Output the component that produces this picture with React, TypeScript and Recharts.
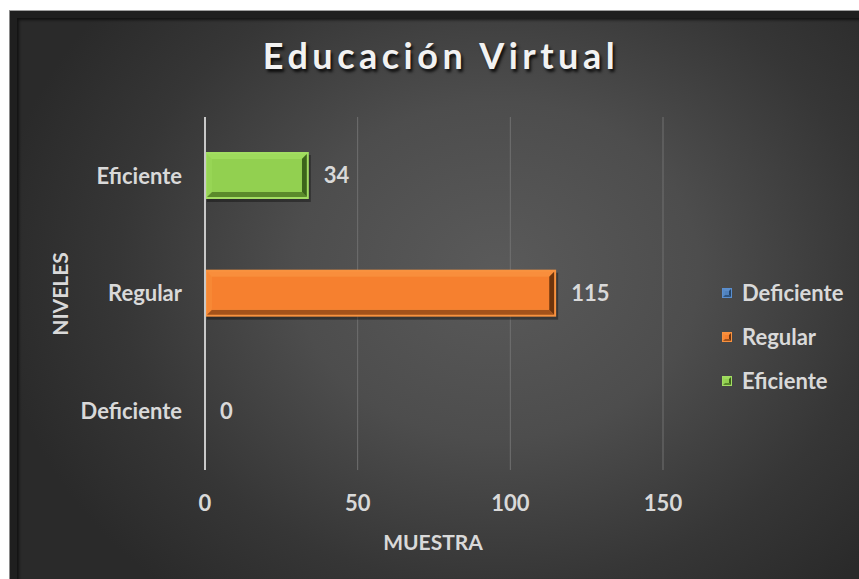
import React from "react";
import { BarChart, Bar, XAxis, YAxis, CartesianGrid, LabelList } from "recharts";

const categories = ["Eficiente", "Regular", "Deficiente"];
const seriesNames = ["Deficiente", "Regular", "Eficiente"];
const deficienteValues: (number | null)[] = [null, null, 0];
const regularValues: (number | null)[] = [null, 115, null];
const eficienteValues: (number | null)[] = [34, null, null];
const xTicks = [0, 50, 100, 150];

const data = categories.map((cat, i) => ({
  cat,
  Deficiente: deficienteValues[i],
  Regular: regularValues[i],
  Eficiente: eficienteValues[i],
}));

type Palette = { edge: string; face: string; top: string; left: string; bottom: string; right: string };
const palettes: Record<string, Palette> = {
  Deficiente: { edge: "#5a8fd0", face: "#4f81bd", top: "#5b8cc8", left: "#5588c4", bottom: "#2f5683", right: "#244468" },
  Regular: { edge: "#f8923f", face: "#f6802f", top: "#f98e3c", left: "#f78835", bottom: "#a3521a", right: "#6e340c" },
  Eficiente: { edge: "#a2dd62", face: "#92d050", top: "#9edb5c", left: "#97d555", bottom: "#5b8a2b", right: "#3c641b" },
};

const FONT = "Lato, 'Open Sans', sans-serif";
const TEXT = "#d9d9d9";
const FS = 22;

function bevel(x: number, y: number, w: number, h: number, p: Palette, b: number, e: number) {
  const pts = (arr: number[][]) => arr.map((q) => q.join(",")).join(" ");
  return (
    <g>
      <rect x={x} y={y} width={w} height={h} fill={p.edge} />
      <polygon points={pts([[x + e, y + e], [x + w - e, y + e], [x + w - e - b, y + e + b], [x + e + b, y + e + b]])} fill={p.top} />
      <polygon points={pts([[x + e, y + e], [x + e + b, y + e + b], [x + e + b, y + h - e - b], [x + e, y + h - e]])} fill={p.left} />
      <polygon points={pts([[x + e, y + h - e], [x + w - e, y + h - e], [x + w - e - b, y + h - e - b], [x + e + b, y + h - e - b]])} fill={p.bottom} />
      <polygon points={pts([[x + w - e, y + e], [x + w - e, y + h - e], [x + w - e - b, y + h - e - b], [x + w - e - b, y + e + b]])} fill={p.right} />
      <rect x={x + e + b} y={y + e + b} width={Math.max(0, w - 2 * (e + b))} height={Math.max(0, h - 2 * (e + b))} fill={p.face} />
    </g>
  );
}

const makeShape = (name: string) => (props: any) => {
  const { x, y, width, height } = props;
  if (!width || width <= 0 || !height) return <g />;
  const p = palettes[name];
  return (
    <g>
      <rect x={x + 2} y={y + 3} width={width} height={height} fill="#000" opacity={0.35} />
      {bevel(x, y, width, height, p, 5, 2)}
    </g>
  );
};

const ValueLabel = (props: any) => {
  const { x, y, width, height, value } = props;
  if (value === null || value === undefined || x === undefined || y === undefined) return null;
  return (
    <text x={Number(x) + Number(width || 0) + 15} y={Number(y) + Number(height || 0) / 2} dy="0.36em" textAnchor="start" fill={TEXT} fontFamily={FONT} fontWeight={700} fontSize={FS}>
      {value}
    </text>
  );
};

const XTick = (props: any) => {
  const { x, y, payload } = props;
  return (
    <text x={x} y={y + 33} dy="0.36em" textAnchor="middle" fill={TEXT} fontFamily={FONT} fontWeight={700} fontSize={FS}>
      {payload.value}
    </text>
  );
};

const YTick = (props: any) => {
  const { x, y, payload } = props;
  return (
    <text x={x - 23} y={y} dy="0.36em" textAnchor="end" fill={TEXT} fontFamily={FONT} fontWeight={700} fontSize={FS}>
      {payload.value}
    </text>
  );
};

export default function App() {
  return (
    <div style={{ position: "fixed", left: 0, top: 0, width: 859, height: 579, background: "#ffffff", overflow: "hidden" }}>
      <div
        style={{
          position: "absolute",
          left: 9,
          top: 10,
          width: 850,
          height: 569,
          background: "#1f1f1f",
          borderTop: "1px solid #a0a0a0",
          borderLeft: "1px solid #8a8a8a",
          boxSizing: "border-box",
        }}
      >
        <div
          style={{
            position: "absolute",
            left: 7,
            top: 7,
            right: 0,
            bottom: 0,
            background: "radial-gradient(ellipse 60% 75% at 57% 45%, #5a5a5a 0%, #4d4d4d 40%, #363636 75%, #2a2a2a 100%)",
            boxShadow: "inset 2px 2px 3px rgba(0,0,0,0.6)",
          }}
        />
      </div>
      <div
        style={{
          position: "absolute",
          left: 0,
          width: 882,
          top: 30,
          textAlign: "center",
          fontFamily: FONT,
          fontWeight: 700,
          fontSize: 36,
          letterSpacing: 4.5,
          color: "#f2f2f2",
          textShadow: "2px 3px 3px rgba(0,0,0,0.8)",
          lineHeight: "50px",
        }}
      >
        Educación Virtual
      </div>
      <div style={{ position: "absolute", left: 0, top: 0 }}>
        <BarChart
          width={859}
          height={579}
          data={data}
          layout="vertical"
          margin={{ top: 117, right: 196, bottom: 69, left: 0 }}
          barGap={-47}
        >
          <CartesianGrid horizontal={false} vertical={true} stroke="#707070" strokeWidth={1} />
          <XAxis type="number" domain={[0, 150]} ticks={xTicks} height={40} axisLine={false} tickLine={false} tickSize={0} tickMargin={0} tick={<XTick />} interval={0} />
          <YAxis type="category" dataKey="cat" width={205} axisLine={{ stroke: "#c8c8c8", strokeWidth: 2 }} tickLine={false} tickSize={0} tickMargin={0} tick={<YTick />} interval={0} />
          {seriesNames.map((name) => (
            <Bar key={name} dataKey={name} name={name} fill={palettes[name].face} barSize={47} isAnimationActive={false} shape={makeShape(name)}>
              <LabelList dataKey={name} content={<ValueLabel />} />
            </Bar>
          ))}
        </BarChart>
      </div>
      <div style={{ position: "absolute", left: 0, top: 0, pointerEvents: "none" }}>
        <svg width={859} height={579}>
          {seriesNames.map((name, i) => (
            <g key={name}>
              {bevel(722, 288 + i * 44, 10, 10, palettes[name], 2, 1)}
              <text x={742} y={293 + i * 44} dy="0.36em" fill={TEXT} fontFamily={FONT} fontWeight={700} fontSize={FS}>
                {name}
              </text>
            </g>
          ))}
          <text x={433} y={542} dy="0.36em" textAnchor="middle" fill={TEXT} fontFamily={FONT} fontWeight={700} fontSize={21}>
            MUESTRA
          </text>
          <text x={60} y={294} dy="0.36em" textAnchor="middle" fill={TEXT} fontFamily={FONT} fontWeight={700} fontSize={21} transform="rotate(-90 60 294)">
            NIVELES
          </text>
        </svg>
      </div>
    </div>
  );
}
